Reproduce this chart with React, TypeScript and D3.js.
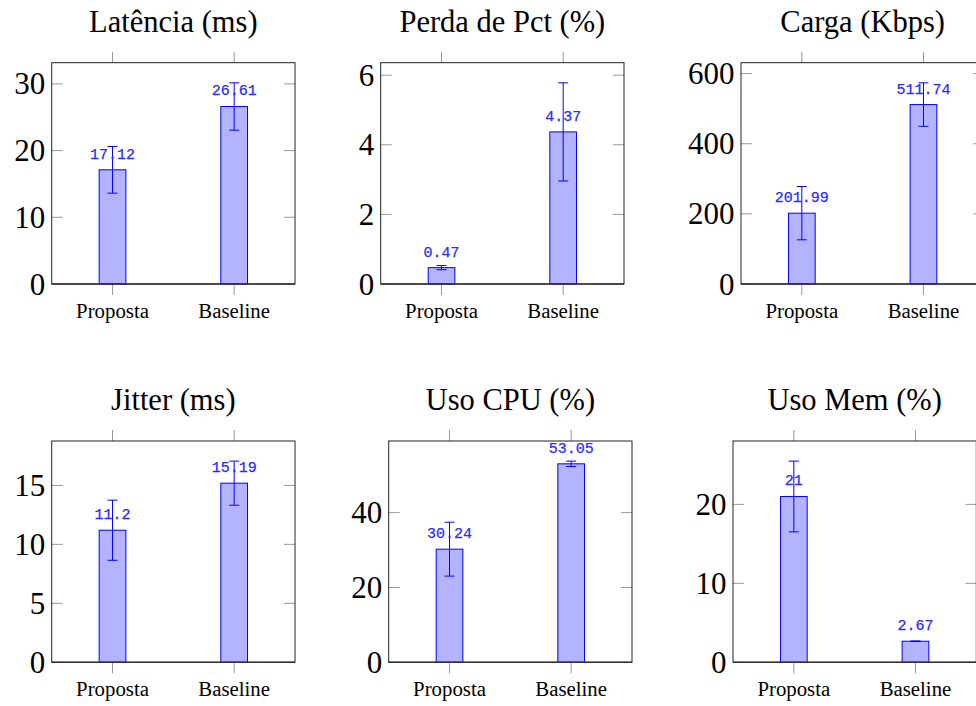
import React from "react";
import * as d3 from "d3";

const metrics = ["Latência (ms)", "Perda de Pct (%)", "Carga (Kbps)", "Jitter (ms)", "Uso CPU (%)", "Uso Mem (%)"];
const categories = ["Proposta", "Baseline"];
const propostaValues = [17.12, 0.47, 201.99, 11.2, 30.24, 21];
const baselineValues = [26.61, 4.37, 511.74, 15.19, 53.05, 2.67];
const propostaErrors = [3.5, 0.06, 76, 2.55, 7.2, 4.48];
const baselineErrors = [3.55, 1.41, 62, 1.87, 0.72, 0.03];
const yTicks = [
  [0, 10, 20, 30],
  [0, 2, 4, 6],
  [0, 200, 400, 600],
  [0, 5, 10, 15],
  [0, 20, 40],
  [0, 10, 20],
];

const layout = {
  lefts: [51.7, 380.7, 741, 51.7, 388.7, 733],
  tops: [62.7, 62.7, 62.7, 441, 441, 441],
  width: 243.3,
  height: 221.3,
  barWidth: 26.7,
};

const SERIF = "'Liberation Serif', 'Times New Roman', serif";
const MONO = "'Liberation Mono', 'Courier New', monospace";

function Panel({ i }: { i: number }) {
  const left = layout.lefts[i];
  const top = layout.tops[i];
  const w = layout.width;
  const h = layout.height;
  const vals = [propostaValues[i], baselineValues[i]];
  const errs = [propostaErrors[i], baselineErrors[i]];
  const maxTop = d3.max(vals.map((v, k) => v + errs[k])) as number;
  const y = d3.scaleLinear().domain([0, maxTop * 1.1]).range([h, 0]);
  const x = d3.scalePoint<string>().domain(categories).range([0, w]).padding(0.5);
  const bw = layout.barWidth;
  const tickLen = 11;
  return (
    <g transform={`translate(${left},${top})`}>
      <text x={w / 2} y={-31.2} textAnchor="middle" fontFamily={SERIF} fontSize={30.5} fill="#000">
        {metrics[i]}
      </text>
      {categories.map((c) => (
        <g key={c}>
          <line x1={x(c)} x2={x(c)} y1={-tickLen} y2={0} stroke="#999" strokeWidth={1} />
          <line x1={x(c)} x2={x(c)} y1={h} y2={h + tickLen} stroke="#999" strokeWidth={1} />
          <text x={x(c)} y={h + 34} textAnchor="middle" fontFamily={SERIF} fontSize={20.8} fill="#000">
            {c}
          </text>
        </g>
      ))}
      {yTicks[i].map((t) => (
        <g key={t}>
          <line x1={0} x2={tickLen} y1={y(t)} y2={y(t)} stroke="#999" strokeWidth={1} />
          <line x1={w - tickLen} x2={w} y1={y(t)} y2={y(t)} stroke="#999" strokeWidth={1} />
          <text x={-6.5} y={y(t)} dy="0.34em" textAnchor="end" fontFamily={SERIF} fontSize={31} fill="#000">
            {t}
          </text>
        </g>
      ))}
      {categories.map((c, k) => {
        const cx = x(c) as number;
        return (
          <g key={"b" + c}>
            <rect x={cx - bw / 2} y={y(vals[k])} width={bw} height={h - y(vals[k])} fill="#b3b3ff" stroke="#0000ff" strokeWidth={1} />
            <line x1={cx} x2={cx} y1={y(vals[k] + errs[k])} y2={y(vals[k] - errs[k])} stroke="#0000ff" strokeWidth={1} />
            <line x1={cx - 5} x2={cx + 5} y1={y(vals[k] + errs[k])} y2={y(vals[k] + errs[k])} stroke="#0000ff" strokeWidth={1} />
            <line x1={cx - 5} x2={cx + 5} y1={y(vals[k] - errs[k])} y2={y(vals[k] - errs[k])} stroke="#0000ff" strokeWidth={1} />
            <text x={cx} y={y(vals[k]) - 11} textAnchor="middle" fontFamily={MONO} fontSize={15} fill="#2a2aff" stroke="#2a2aff" strokeWidth={0.25}>
              {String(vals[k])}
            </text>
          </g>
        );
      })}
      <rect x={0} y={0} width={w} height={h} fill="none" stroke="#222" strokeWidth={1} />
      <line x1={0} x2={w} y1={h} y2={h} stroke="#333" strokeWidth={1.4} />
    </g>
  );
}

export default function App() {
  return (
    <svg width={976} height={706} style={{ position: "absolute", left: 0, top: 0, background: "#fff" }}>
      <rect x={0} y={0} width={976} height={706} fill="#fff" />
      {metrics.map((m, i) => (
        <Panel key={m} i={i} />
      ))}
    </svg>
  );
}
